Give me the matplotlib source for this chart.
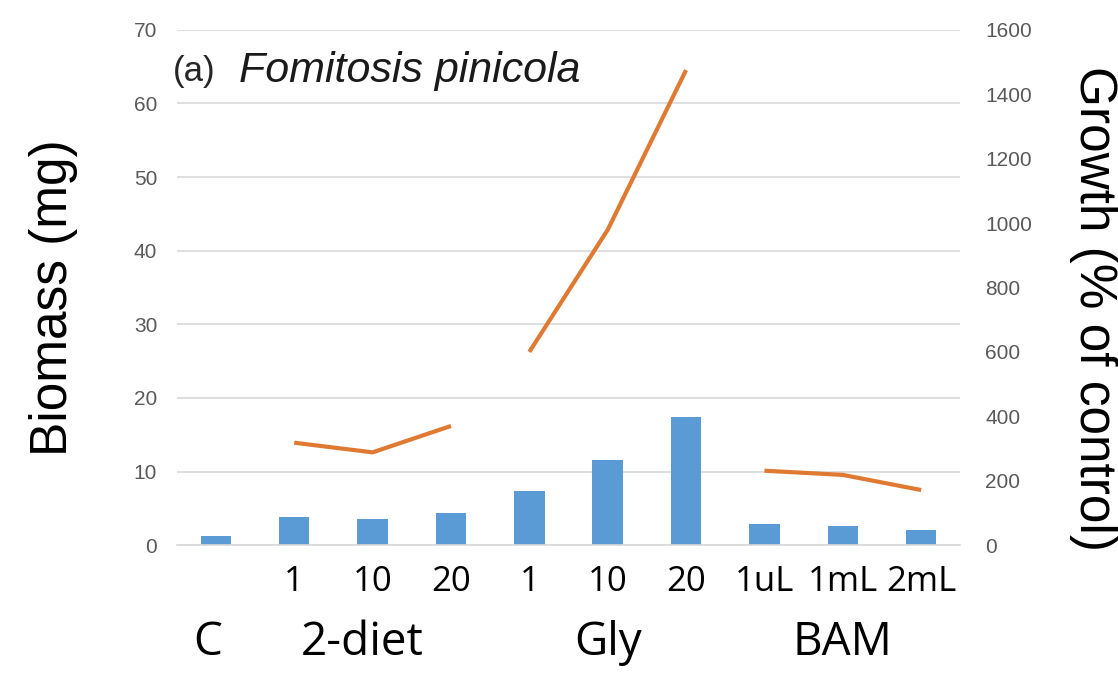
import numpy as np
import matplotlib
matplotlib.use("Agg")
import matplotlib.pyplot as plt
import matplotlib.transforms as mtransforms

plt.rcParams['font.family'] = ['Liberation Sans', 'DejaVu Sans']

# data
tickLabels = ['', '1', '10', '20', '1', '10', '20', '1uL', '1mL', '2mL']
groupNames = ['C', '2-diet', 'Gly', 'BAM']
groupCenters = [-0.1, 1.87, 5, 8]
biomass = [1.2, 3.8, 3.6, 4.4, 7.3, 11.6, 17.4, 2.9, 2.6, 2.0]
growth = [np.nan, 318, 288, 370, 600, 979, 1475, 231, 218, 171]
segments = [(1, 4), (4, 7), (7, 10)]  # line is broken between groups

barColor = '#5B9BD5'
lineColor = '#E07A33'
catFont = ['Open Sans', 'DejaVu Sans']

fig = plt.figure(figsize=(11.18, 6.78), dpi=100)
ax = fig.add_axes([0.158, 0.196, 0.701, 0.760])
x = np.arange(len(biomass))

ax.bar(x, biomass, width=0.39, color=barColor, zorder=2)
ax.set_ylim(0, 70)
ax.set_yticks(range(0, 71, 10))
ax.set_xlim(-0.5, len(biomass) - 0.5)
ax.set_xticks(x)
ax.set_xticklabels(tickLabels, fontsize=25, family=catFont)
ax.grid(axis='y', color='#D9D9D9', linewidth=1.2, zorder=0)
ax.set_axisbelow(True)
for s in ['top', 'left', 'right']:
    ax.spines[s].set_visible(False)
ax.spines['bottom'].set_color('#D9D9D9')
ax.spines['bottom'].set_linewidth(1.2)
ax.tick_params(axis='y', length=0, labelsize=15, labelcolor='#595959', pad=14)
ax.tick_params(axis='x', length=0, pad=14)
ax.set_ylabel('Biomass (mg)', fontsize=37)
ax.yaxis.set_label_coords(-0.126, 0.48)

ax2 = ax.twinx()
for a, b in segments:
    ax2.plot(x[a:b], growth[a:b], color=lineColor, linewidth=3, solid_capstyle='butt')
ax2.set_ylim(0, 1600)
ax2.set_yticks(range(0, 1601, 200))
for s in ['top', 'left', 'right', 'bottom']:
    ax2.spines[s].set_visible(False)
ax2.tick_params(axis='y', length=0, labelsize=15, labelcolor='#595959', pad=18)
ax2.set_ylabel('Growth (% of control)', fontsize=37, rotation=270, va='center')
ax2.yaxis.set_label_coords(1.17, 0.46)

# group names under the tick labels
trans = mtransforms.blended_transform_factory(ax.transData, ax.transAxes)
for name, c in zip(groupNames, groupCenters):
    ax.text(c, -0.19, name, transform=trans, ha='center', va='center',
            fontsize=33, family=catFont)

ax.text(-0.005, 0.92, '(a)', transform=ax.transAxes, fontsize=25, va='center', ha='left',
        color='#262626')
ax.text(0.08, 0.92, 'Fomitosis pinicola', transform=ax.transAxes, fontsize=31,
        style='italic', va='center', ha='left', color='#1a1a1a')

fig.savefig('out.png', dpi=100)
